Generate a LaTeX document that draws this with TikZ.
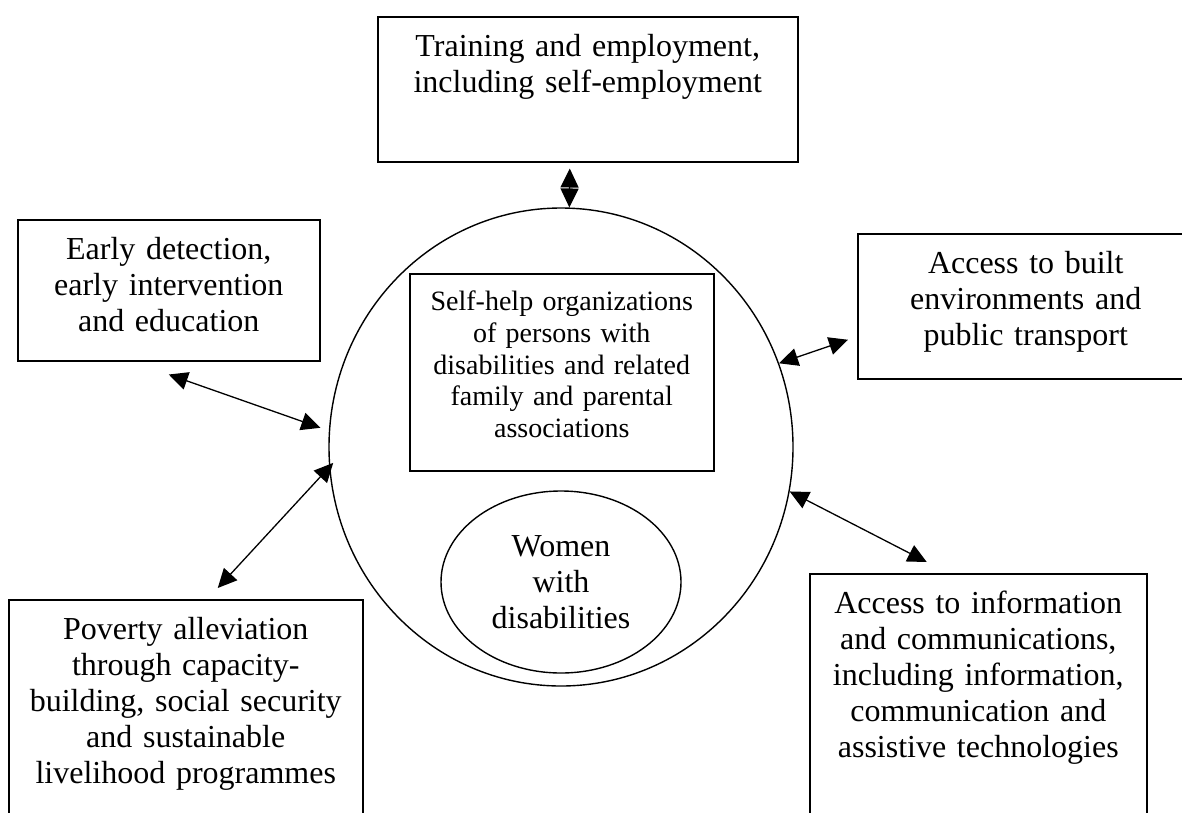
\documentclass[tikz,border=0pt]{standalone}
\usepackage{fontspec}
\setmainfont{Liberation Serif}
\usetikzlibrary{arrows.meta,shapes.geometric}

\begin{document}
\begin{tikzpicture}[x=1pt,y=-1pt,
  box/.style={draw,line width=1.5pt,anchor=north west,inner sep=0pt,align=center,
    text height=40pt,font=\fontsize{32}{36}\selectfont},
  ring/.style={draw,ellipse,line width=1.4pt,inner sep=0pt},
  link/.style={{Triangle[length=19pt,width=18pt]}-{Triangle[length=19pt,width=18pt]},line width=1.3pt}]
\useasboundingbox (0,0) rectangle (1182,812);
\clip (0,0) rectangle (1182,812);

% outer boxes
\node[box,text width=420pt,text depth=105pt] (train) at (377,16) {Training and employment,\\including self-employment};
\node[box,text width=302pt,text depth=101pt] (early) at (17,219) {Early detection,\\early intervention\\and education};
\node[box,text width=336pt,text depth=105pt] (built) at (857,233) {Access to built\\environments and\\public transport};
\node[box,text width=354pt,text depth=190pt] (poverty) at (8,599) {Poverty alleviation\\through capacity-\\building, social security\\and sustainable\\livelihood programmes};
\node[box,text width=337pt,text depth=220pt] (info) at (809,573) {Access to information\\and communications,\\including information,\\communication and\\assistive technologies};

% the circle and what is in it
\node[ring,minimum width=464pt,minimum height=478pt] (hub) at (561,447) {};
\node[box,text width=304pt,text height=37pt,text depth=160pt,font=\fontsize{28}{31.7}\selectfont] (selfhelp) at (409,273) {Self-help organizations\\of persons with\\disabilities and related\\family and parental\\associations};
\node[ring,minimum width=240pt,minimum height=182pt,align=center,font=\fontsize{32}{36}\selectfont] (women) at (561,582) {Women\\with\\disabilities};

% links
\draw[link] ([xshift=-18pt,yshift=-6pt]train.south) -- (hub.88);
\draw[link,shorten >=9pt] ([yshift=-13pt]early.south) -- (hub.176.4);
\draw[link,shorten >=-6pt] ([xshift=32pt,yshift=11pt]poverty.north) -- (hub.185.9);
\draw[link] (hub.21.4) -- ([xshift=-9pt,yshift=-33.5pt]built.west);
\draw[link] (hub.-11) -- ([xshift=-51.5pt,yshift=11pt]info.north);
\end{tikzpicture}
\end{document}
